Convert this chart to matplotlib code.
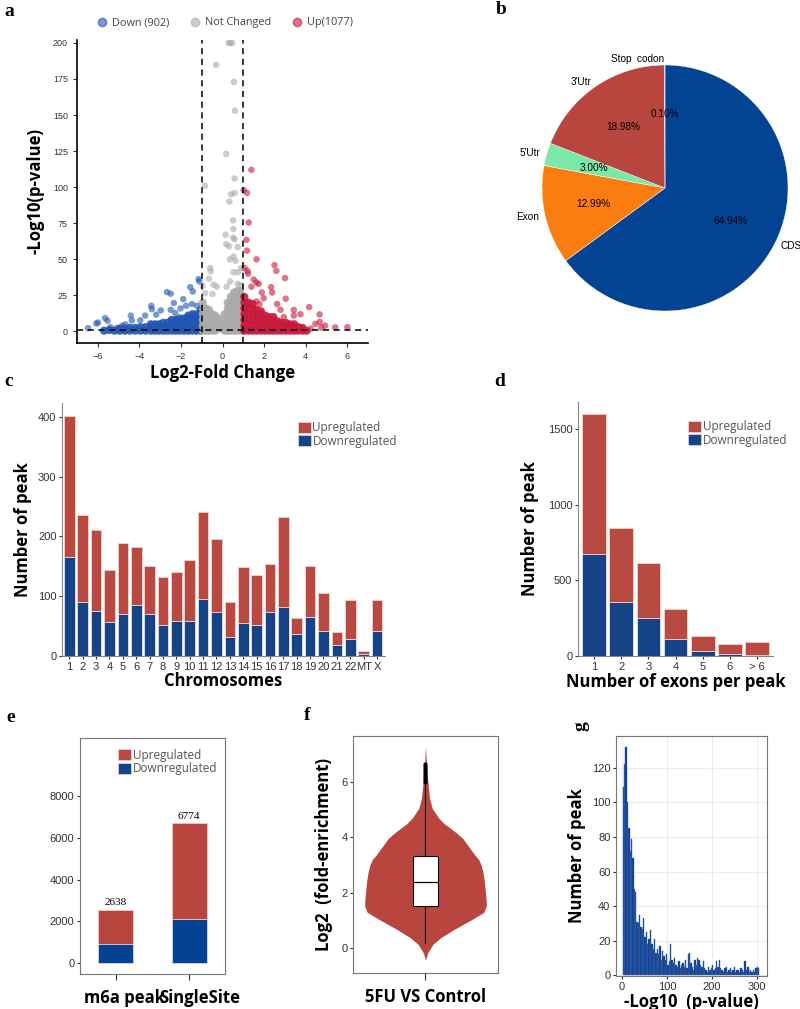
import matplotlib
matplotlib.use("Agg")
import matplotlib.pyplot as plt
import matplotlib.transforms as mtransforms
from matplotlib.patches import Patch
from matplotlib.lines import Line2D

plt.rcParams['font.family'] = ['Liberation Sans', 'DejaVu Sans']

# ---------------- data ----------------
# a: volcano, scattered points
down_pts = [(-6.47, 2.3), (-6.07, 5.5), (-5.99, 6.2), (-5.65, 9.3), (-5.53, 7.4), (-5.39, 3.0),
            (-4.41, 11), (-4.36, 7.6), (-4.67, 4.9), (-3.43, 17.8), (-3.40, 15.5), (-2.97, 14.6),
            (-3.19, 11.6), (-2.67, 27.3), (-2.49, 26.2), (-2.34, 19.7), (-2.27, 12.8), (-1.89, 22.4),
            (-1.75, 17.8), (-1.55, 30.7), (-1.43, 27.7), (-1.15, 36.3), (-1.12, 34.7), (-1.47, 19),
            (-1.23, 17.8), (-2.02, 16), (-2.49, 15), (-3.72, 11), (-3.96, 7.7), (-5.1, 2.3), (-4.81, 4)]
nc_pts = [(0.29, 200), (0.37, 200), (0.46, 200), (-0.31, 184.8), (0.55, 173), (0.60, 153),
          (0.18, 123), (-0.84, 101), (0.58, 106), (0.41, 95), (0.58, 96), (0.33, 90), (0.51, 77),
          (0.52, 71), (0.15, 67), (0.51, 65), (0.58, 64), (0.18, 60.5), (0.32, 59), (0.73, 58.5),
          (0.53, 52), (0.35, 50), (0.63, 49), (-0.59, 44), (0.89, 44), (-0.57, 41.6), (0.53, 41),
          (0.74, 41), (-0.65, 36.5), (-0.43, 32.4), (-0.27, 31), (0.37, 34.6), (0.73, 33),
          (-0.96, 31.6), (-0.84, 26.6), (-0.48, 26), (0.2, 31), (0.86, 32)]
up_pts = [(1.39, 112), (1.02, 98), (1.18, 96), (1.26, 75.5), (1.15, 63.5), (1.18, 56), (1.64, 50),
          (2.50, 46), (2.59, 42), (1.06, 44), (1.2, 42), (1.23, 40), (3.01, 37), (1.5, 36), (1.63, 34),
          (1.74, 33), (2.34, 30.7), (2.39, 27), (1.39, 31), (1.89, 27), (3.04, 22.7), (1.98, 23),
          (1.64, 20.8), (2.63, 19), (2.79, 15), (1.78, 19), (4.17, 16.9), (4.67, 11.8), (3.43, 14.9),
          (4.47, 5.3), (4.68, 6.6), (4.94, 4), (5.42, 2.8), (6.01, 3.0), (4.75, 2.8), (4.25, 2),
          (2.95, 10), (3.43, 11), (3.75, 12)]
# a: the dense, overplotted bands near the baseline (approximated)
down_band = [(-1.05, 0.5), (-1.05, 3), (-1.05, 6), (-1.05, 9), (-1.05, 12), (-1.05, 15),
             (-1.25, 0.5), (-1.25, 3), (-1.25, 6), (-1.25, 9), (-1.25, 12),
             (-1.45, 0.5), (-1.45, 3), (-1.45, 6), (-1.45, 9), (-1.45, 12),
             (-1.65, 0.5), (-1.65, 3), (-1.65, 6), (-1.65, 9), (-1.65, 11),
             (-1.85, 0.5), (-1.85, 3), (-1.85, 6), (-1.85, 9),
             (-2.05, 0.5), (-2.05, 3), (-2.05, 6), (-2.05, 9),
             (-2.25, 0.5), (-2.25, 3), (-2.25, 6), (-2.25, 8),
             (-2.45, 0.5), (-2.45, 3), (-2.45, 6), (-2.45, 8),
             (-2.65, 0.5), (-2.65, 3), (-2.65, 6), (-2.85, 0.5), (-2.85, 3), (-2.85, 6),
             (-3.05, 0.5), (-3.05, 3), (-3.05, 5), (-3.25, 0.5), (-3.25, 3), (-3.25, 5),
             (-3.45, 0.5), (-3.45, 3), (-3.45, 5), (-3.7, 0.5), (-3.7, 3), (-3.95, 0.5), (-3.95, 3),
             (-4.2, 0.5), (-4.2, 2.5), (-4.45, 0.5), (-4.45, 2.5), (-4.7, 0.5), (-4.7, 2),
             (-4.95, 0.5), (-4.95, 2), (-5.2, 0.5), (-5.45, 1), (-5.7, 0.5)]
nc_band = [(-0.95, 0.5), (-0.95, 4), (-0.95, 8), (-0.95, 12), (-0.95, 16), (-0.95, 20),
           (-0.8, 0.5), (-0.8, 4), (-0.8, 8), (-0.8, 12), (-0.8, 16),
           (-0.65, 0.5), (-0.65, 4), (-0.65, 8), (-0.65, 12), (-0.65, 15),
           (-0.5, 0.5), (-0.5, 4), (-0.5, 8), (-0.5, 12), (-0.35, 0.5), (-0.35, 4), (-0.35, 8),
           (-0.35, 11), (-0.2, 2), (-0.2, 6), (-0.2, 9), (-0.05, 2), (-0.05, 5),
           (0.1, 0.5), (0.1, 4), (0.1, 8), (0.1, 12),
           (0.25, 0.5), (0.25, 4), (0.25, 8), (0.25, 12), (0.25, 16), (0.25, 20),
           (0.4, 0.5), (0.4, 4), (0.4, 8), (0.4, 12), (0.4, 16), (0.4, 20), (0.4, 24),
           (0.55, 0.5), (0.55, 4), (0.55, 8), (0.55, 12), (0.55, 16), (0.55, 20), (0.55, 24), (0.55, 27),
           (0.7, 0.5), (0.7, 4), (0.7, 8), (0.7, 12), (0.7, 16), (0.7, 20), (0.7, 24), (0.7, 28),
           (0.85, 0.5), (0.85, 4), (0.85, 8), (0.85, 12), (0.85, 16), (0.85, 20), (0.85, 24), (0.85, 28),
           (0.97, 0.5), (0.97, 4), (0.97, 8), (0.97, 12), (0.97, 16), (0.97, 20)]
up_band = [(1.05, 0.5), (1.05, 4), (1.05, 8), (1.05, 12), (1.05, 16), (1.05, 20), (1.05, 24),
           (1.25, 0.5), (1.25, 4), (1.25, 8), (1.25, 12), (1.25, 16), (1.25, 20),
           (1.45, 0.5), (1.45, 4), (1.45, 8), (1.45, 12), (1.45, 16), (1.45, 19),
           (1.65, 0.5), (1.65, 4), (1.65, 8), (1.65, 12), (1.65, 15),
           (1.85, 0.5), (1.85, 4), (1.85, 8), (1.85, 12), (1.85, 14),
           (2.05, 0.5), (2.05, 4), (2.05, 8), (2.05, 11), (2.25, 0.5), (2.25, 4), (2.25, 8), (2.25, 10),
           (2.45, 0.5), (2.45, 4), (2.45, 7), (2.45, 10), (2.65, 0.5), (2.65, 4), (2.65, 7),
           (2.85, 0.5), (2.85, 3.5), (2.85, 6), (3.05, 0.5), (3.05, 3.5), (3.05, 6),
           (3.25, 0.5), (3.25, 3), (3.25, 5), (3.45, 0.5), (3.45, 3), (3.45, 5),
           (3.65, 0.5), (3.65, 3), (3.85, 0.5), (3.85, 2.5), (4.05, 0.5)]
volcano_labels = ['Down (902)', 'Not Changed', 'Up(1077)']

# b: peak distribution
pie_labels = ['CDS', 'Exon', "5'Utr", "3'Utr", 'Stop  codon']
pie_values = [64.94, 12.99, 3.00, 18.98, 0.10]
pie_colors = ['#024394', '#fb7d0f', '#7be8a8', '#b8463e', '#8e6bbf']

# c: peaks per chromosome
chroms = [str(i) for i in range(1, 23)] + ['MT', 'X']
chrom_total = [402, 235, 211, 143, 189, 182, 150, 132, 141, 160, 240, 196, 91, 148, 136, 153,
               232, 63, 150, 105, 40, 93, 8, 93]
chrom_down = [165, 91, 76, 57, 70, 85, 70, 52, 58, 59, 95, 73, 32, 55, 51, 73, 82, 36, 65, 42,
              18, 28, 3, 42]

# d: exons per peak
exon_cats = ['1', '2', '3', '4', '5', '6', '> 6']
exon_total = [1602, 845, 613, 313, 135, 79, 90]
exon_down = [675, 360, 251, 112, 33, 13, 9]

# e: m6a peak vs single site
site_cats = ['m6a peak', 'SingleSite']
site_down = [910, 2110]
site_up = [1630, 4590]
site_labels = ['2638', '6774']

# f: violin profile (log2 fold enrichment, half width) and box stats
violin_y = [-0.45, -0.18, 0.12, 0.37, 0.67, 1.04, 1.28, 1.52, 1.77, 2.1, 2.38, 2.7, 3.0, 3.2,
            3.35, 3.65, 3.96, 4.15, 4.33, 4.5, 4.7, 5.06, 5.43, 6.04, 6.65, 7.3]
violin_w = [0.0, 0.019, 0.061, 0.129, 0.24, 0.391, 0.482, 0.504, 0.501, 0.494, 0.488, 0.477,
            0.46, 0.44, 0.41, 0.36, 0.309, 0.26, 0.207, 0.155, 0.11, 0.055, 0.033, 0.019, 0.008, 0.0]
box_q1, box_med, box_q3 = 1.52, 2.38, 3.32
whisk_lo, whisk_hi = 0.16, 6.0
outliers = [6.02, 6.08, 6.15, 6.22, 6.3, 6.38, 6.45, 6.52, 6.6, 6.68]

# g: p-value histogram (bin width 3 starting at 2)
hist_start = 2
hist_width = 3
hist_counts = [109, 122, 132, 100, 85, 72, 79, 68, 50, 48, 31, 30, 35, 28, 27, 33, 22, 25, 18, 21,
               26, 18, 15, 21, 13, 15, 12, 17, 9, 14, 11, 9, 12, 6, 8, 18, 9, 7, 10, 6,
               5, 8, 4, 6, 7, 5, 9, 4, 12, 13, 7, 5, 3, 9, 6, 10, 9, 6, 5, 8,
               4, 3, 2, 5, 3, 4, 6, 3, 4, 8, 5, 9, 4, 3, 2, 4, 5, 2, 3, 4,
               2, 3, 5, 2, 3, 3, 2, 4, 3, 2, 8, 3, 5, 2, 3, 2, 3, 2, 4, 5, 4]

# ---------------- styling helpers ----------------
W, H = 800, 1009
RED = '#b84a42'
BLUE = '#164385'
LAB = dict(family=['Open Sans', 'DejaVu Sans'], fontweight='bold')


def px_axes(fig, x0, y0, x1, y1):
    return fig.add_axes([x0 / W, 1 - y1 / H, (x1 - x0) / W, (y1 - y0) / H])


def panel_letter(fig, x, y, s, rot=0):
    fig.text(x / W, 1 - y / H, s, family=['Liberation Serif'], fontweight='bold',
             fontsize=14, ha='left', va='center', rotation=rot)


def reg_legend(ax, **kw):
    hs = [Patch(facecolor=RED, edgecolor='#f3d0d0', lw=0.6),
          Patch(facecolor=BLUE, edgecolor='#c9d4ea', lw=0.6)]
    leg = ax.legend(hs, ['Upregulated', 'Downregulated'], frameon=False,
                    handlelength=1.1, handleheight=1.1, handletextpad=0.15, labelspacing=0.05,
                    prop={'family': ['Open Sans', 'DejaVu Sans'], 'size': 8.5}, **kw)
    for t in leg.get_texts():
        t.set_color('#555555')
    return leg


fig = plt.figure(figsize=(8, 10.09), dpi=100)

# ---------------- a ----------------
ax = px_axes(fig, 77, 40, 368, 343)
cols = ['#2156b5', '#aaaaaa', '#c8193c']
for band, c in zip([down_band, nc_band, up_band], cols):
    ax.scatter([p[0] for p in band], [p[1] for p in band], s=34, color=c, alpha=0.9,
               edgecolors='none', zorder=2)
for pts, c in zip([down_pts, nc_pts, up_pts], cols):
    ax.scatter([p[0] for p in pts], [p[1] for p in pts], s=22, color=c, alpha=0.6,
               edgecolors='none', zorder=2)
ax.axhline(1.3, color='black', ls=(0, (4, 3)), lw=1.1, zorder=3)
ax.axvline(-1, color='black', ls=(0, (4, 3)), lw=1.1, zorder=3)
ax.axvline(1, color='black', ls=(0, (4, 3)), lw=1.1, zorder=3)
ax.set_xlim(-7, 7)
ax.set_ylim(-8, 202)
ax.set_xticks(range(-6, 7, 2))
ax.set_yticks(range(0, 201, 25))
ax.tick_params(labelsize=6.5, colors='#333333', length=3)
for s in ['top', 'right']:
    ax.spines[s].set_visible(False)
for s in ['left', 'bottom']:
    ax.spines[s].set_linewidth(1.2)
ax.set_xlabel('Log2-Fold Change', fontsize=12, labelpad=2, **LAB)
ax.set_ylabel('-Log10(p-value)', fontsize=12, labelpad=6, **LAB)
hs = [Line2D([], [], ls='none', marker='o', markersize=6, color=c, alpha=0.6) for c in cols]
leg = fig.legend(hs, volcano_labels, loc='center', bbox_to_anchor=(222 / W, 1 - 23 / H), ncol=3,
                 frameon=False, handletextpad=0.0, columnspacing=1.3,
                 prop={'family': ['Open Sans', 'DejaVu Sans'], 'size': 7.8})
for t in leg.get_texts():
    t.set_color('#444444')
panel_letter(fig, 4, 12, 'a')

# ---------------- b ----------------
r = 123
ax = px_axes(fig, 665 - 1.25 * r, 188 - 1.25 * r, 665 + 1.25 * r, 188 + 1.25 * r)
wedges, texts, autotexts = ax.pie(pie_values, labels=pie_labels, colors=pie_colors, startangle=90,
                                  counterclock=False, autopct='%.2f%%', labeldistance=1.05,
                                  textprops={'fontsize': 7.2})
for t, v in zip(autotexts, pie_values):
    t.set_text(f'{v:.2f}%')
for w in wedges:
    w.set_edgecolor('white')
    w.set_linewidth(0.3)
panel_letter(fig, 496, 10, 'b')

# ---------------- c ----------------
ax = px_axes(fig, 62, 403, 385, 656)
xs = list(range(len(chroms)))
chrom_up = [t - d for t, d in zip(chrom_total, chrom_down)]
ax.bar(xs, chrom_down, width=0.8, color=BLUE, edgecolor='#dfe6f3', lw=0.6)
ax.bar(xs, chrom_up, bottom=chrom_down, width=0.8, color=RED, edgecolor='#f3d0d0', lw=0.6)
ax.set_xlim(-0.55, 23.6)
ax.set_ylim(0, 423)
ax.set_xticks(xs)
ax.set_xticklabels(chroms)
ax.set_yticks([0, 100, 200, 300, 400])
ax.tick_params(labelsize=8, colors='#333333', length=2.5, pad=1.5)
for s in ['top', 'right']:
    ax.spines[s].set_visible(False)
for s in ['left', 'bottom']:
    ax.spines[s].set_color('#888888')
ax.set_xlabel('Chromosomes', fontsize=12, labelpad=0, **LAB)
ax.set_ylabel('Number of peak', fontsize=12, labelpad=4, **LAB)
reg_legend(ax, loc='upper right', bbox_to_anchor=(1.07, 0.97))
panel_letter(fig, 4, 382, 'c')

# ---------------- d ----------------
ax = px_axes(fig, 578, 402, 773, 656)
xs = list(range(len(exon_cats)))
exon_up = [t - d for t, d in zip(exon_total, exon_down)]
ax.bar(xs, exon_down, width=0.88, color=BLUE, edgecolor='#dfe6f3', lw=0.6)
ax.bar(xs, exon_up, bottom=exon_down, width=0.88, color=RED, edgecolor='#f3d0d0', lw=0.6)
ax.set_xlim(-0.6, 6.6)
ax.set_ylim(0, 1680)
ax.set_xticks(xs)
ax.set_xticklabels(exon_cats)
ax.set_yticks([0, 500, 1000, 1500])
ax.tick_params(labelsize=8, colors='#333333', length=2.5, pad=1.5)
for s in ['top', 'right']:
    ax.spines[s].set_visible(False)
for s in ['left', 'bottom']:
    ax.spines[s].set_color('#888888')
ax.set_xlabel('Number of exons per peak', fontsize=12, labelpad=1, **LAB)
ax.set_ylabel('Number of peak', fontsize=12, labelpad=6, **LAB)
reg_legend(ax, loc='upper right', bbox_to_anchor=(1.13, 0.97))
panel_letter(fig, 494, 382, 'd')

# ---------------- e ----------------
ax = px_axes(fig, 80, 738, 225, 974)
xs = list(range(len(site_cats)))
ax.bar(xs, site_down, width=0.48, color='#034193', edgecolor='#dfe6f3', lw=0.5)
ax.bar(xs, site_up, bottom=site_down, width=0.48, color='#b8463e', edgecolor='#f3d0d0', lw=0.5)
for x, d, u, lab in zip(xs, site_down, site_up, site_labels):
    ax.text(x, d + u + 120, lab, ha='center', va='bottom', fontsize=8,
            family=['Liberation Serif'])
ax.set_xlim(-0.49, 1.49)
ax.set_ylim(-527, 10780)
ax.set_xticks(xs)
ax.set_xticklabels(site_cats, fontsize=12, fontweight='bold',
                   family=['Open Sans', 'DejaVu Sans'])
ax.set_yticks([0, 2000, 4000, 6000, 8000])
ax.tick_params(axis='y', labelsize=8, colors='#333333', length=2.5, pad=1.5)
ax.tick_params(axis='x', length=4, pad=7, colors='#333333')
for t, dx in zip(ax.get_xticklabels(), [9, 11]):
    t.set_color('black')
    t.set_transform(t.get_transform() + mtransforms.ScaledTranslation(dx / 100, 0, fig.dpi_scale_trans))
for s in ax.spines.values():
    s.set_color('#777777')
reg_legend(ax, loc='upper right', bbox_to_anchor=(1.02, 1.0))
panel_letter(fig, 6, 718, 'e')

# ---------------- f ----------------
ax = px_axes(fig, 353, 736, 498, 973)
left = [1 - w for w in violin_w]
right = [1 + w for w in violin_w]
ax.fill_betweenx(violin_y, left, right, color='#b8463e', lw=0)
ax.bxp([{'med': box_med, 'q1': box_q1, 'q3': box_q3, 'whislo': whisk_lo, 'whishi': whisk_hi,
         'fliers': outliers}], positions=[1], widths=0.2, showcaps=False, patch_artist=True,
       boxprops=dict(facecolor='white', edgecolor='black', lw=0.8),
       medianprops=dict(color='black', lw=0.9),
       whiskerprops=dict(color='black', lw=0.8),
       flierprops=dict(marker='o', markersize=2, markerfacecolor='black', markeredgecolor='black'))
ax.set_xlim(0.4, 1.6)
ax.set_ylim(-0.92, 7.68)
ax.set_xticks([1])
ax.set_xticklabels([''])
ax.set_yticks([0, 2, 4, 6])
ax.tick_params(labelsize=8, colors='#333333', length=2.5, pad=1.5)
ax.tick_params(axis='x', length=5)
for s in ax.spines.values():
    s.set_color('#777777')
ax.set_xlabel('5FU VS Control', fontsize=12, labelpad=4, **LAB)
ax.set_ylabel('Log2  (fold-enrichment)', fontsize=12, labelpad=6, **LAB)
panel_letter(fig, 304, 715, 'f')

# ---------------- g ----------------
ax = px_axes(fig, 616, 736, 767, 976)
edges = [hist_start + i * hist_width for i in range(len(hist_counts))]
ax.bar(edges, hist_counts, width=hist_width, align='edge', color='#0b3c8c',
       edgecolor='#3f66ae', lw=0.3, zorder=2)
ax.set_xlim(-13, 322)
ax.set_ylim(-0.5, 138.5)
ax.set_xticks([0, 100, 200, 300])
ax.set_yticks(range(0, 121, 20))
ax.grid(True, color='#ebebeb', lw=0.8, zorder=0)
ax.set_axisbelow(True)
ax.tick_params(labelsize=8, colors='#333333', length=2.5, pad=1.5)
for s in ax.spines.values():
    s.set_color('#777777')
ax.set_xlabel('-Log10  (p-value)', fontsize=12, labelpad=1, **LAB)
ax.set_ylabel('Number of peak', fontsize=12, labelpad=4, **LAB)
panel_letter(fig, 572, 726, 'g', rot=90)

fig.savefig('out.png', dpi=100)
print('Saved: out.png')
